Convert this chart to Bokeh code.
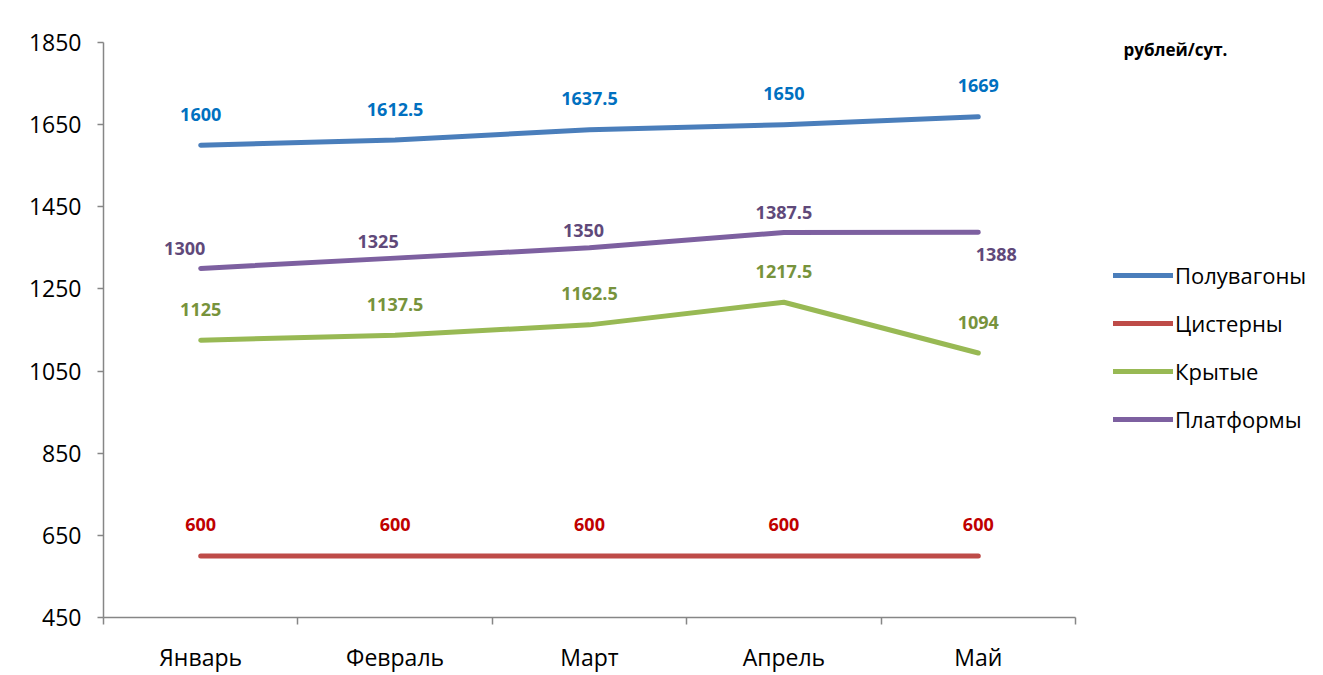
from bokeh.plotting import figure
from bokeh.models import Range1d, FixedTicker, Legend, LegendItem, Label, ColumnDataSource
from bokeh.embed import file_html
from bokeh.resources import INLINE
from bokeh.core.properties import value

# ---- data ----
months = ["Январь", "Февраль", "Март", "Апрель", "Май"]
series_names = ["Полувагоны", "Цистерны", "Крытые", "Платформы"]
poluvagony = [1600, 1612.5, 1637.5, 1650, 1669]
cisterny = [600, 600, 600, 600, 600]
krytye = [1125, 1137.5, 1162.5, 1217.5, 1094]
platformy = [1300, 1325, 1350, 1387.5, 1388]
y_ticks = [450, 650, 850, 1050, 1250, 1450, 1650, 1850]
unit_text = "рублей/сут."

# ---- styles / layout ----
line_colors = ["#4A7EBB", "#BE4B48", "#98B954", "#7D60A0"]
label_colors = ["#0070C0", "#C00000", "#77933C", "#5F497A"]
label_dx = [
    [0, 0, 0, 0, 0],
    [0, 0, 0, 0, 0],
    [0, 0, 0, 0, 0],
    [-16, -17, -6, 0, 18],
]
label_dy = [
    [-31, -31, -31, -31, -31],
    [-31, -31, -31, -31, -31],
    [-31, -31, -31, -31, -31],
    [-20, -17, -17, -20, 22],
]
FONT = "Open Sans"
AXIS_COL = "#868686"
W, H = 1323, 675
LEFT, TOP, BOTTOM = 103, 42, 58
AXIS_PX = 972              # pixel length of the category axis
frame_w = W - LEFT
n = len(months)

p = figure(width=W, height=H, output_backend="svg", toolbar_location=None,
           x_range=Range1d(0, n * frame_w / AXIS_PX), y_range=Range1d(y_ticks[0], y_ticks[-1]),
           min_border_left=LEFT, min_border_right=0, min_border_top=TOP, min_border_bottom=BOTTOM)
p.outline_line_color = None
p.xgrid.visible = False
p.ygrid.visible = False
p.background_fill_color = "white"
p.border_fill_color = "white"

xs = [i + 0.5 for i in range(n)]
all_series = [poluvagony, cisterny, krytye, platformy]

items = []
for k, (name, vals) in enumerate(zip(series_names, all_series)):
    r = p.line(xs, vals, line_color=line_colors[k], line_width=5, line_cap="round", line_join="round")
    items.append(LegendItem(label=name, renderers=[r]))
    src = ColumnDataSource(dict(x=xs, y=vals, t=[f"{v:g}" for v in vals],
                                dx=label_dx[k], dy=label_dy[k]))
    p.text(x="x", y="y", text="t", source=src, x_offset="dx", y_offset="dy",
           text_font=value(FONT), text_font_size="18px", text_font_style="bold",
           text_color=label_colors[k], text_align="center", text_baseline="middle")

yax = p.yaxis[0]
yax.ticker = FixedTicker(ticks=y_ticks)
yax.major_tick_out = 6
yax.major_tick_in = 0
yax.minor_tick_out = 0
yax.minor_tick_in = 0
yax.axis_line_color = AXIS_COL
yax.axis_line_width = 1.5
yax.major_tick_line_color = AXIS_COL
yax.major_tick_line_width = 1.5
yax.major_label_text_font = FONT
yax.major_label_text_font_size = "23px"
yax.major_label_text_color = "black"
yax.major_label_standoff = 16

xax = p.xaxis[0]
xax.bounds = (0, n)
xax.ticker = FixedTicker(ticks=xs, minor_ticks=list(range(n + 1)))
xax.major_label_overrides = {x: m for x, m in zip(xs, months)}
xax.major_tick_out = 0
xax.major_tick_in = 0
xax.minor_tick_out = 7
xax.minor_tick_in = 0
xax.minor_tick_line_color = AXIS_COL
xax.minor_tick_line_width = 1.5
xax.axis_line_color = AXIS_COL
xax.axis_line_width = 1.5
xax.major_label_text_font = FONT
xax.major_label_text_font_size = "23px"
xax.major_label_text_color = "black"
xax.major_label_standoff = 16

legend = Legend(items=items, location=(1010, 183), orientation="vertical",
                label_text_font=FONT, label_text_font_size="22px", label_text_color="black",
                glyph_width=60, glyph_height=22, label_height=22, label_standoff=2,
                spacing=18, padding=0, margin=0, border_line_color=None,
                background_fill_alpha=0)
p.add_layout(legend, "center")

p.add_layout(Label(x=1020, y=568, x_units="screen", y_units="screen", text=unit_text,
                   text_font=FONT, text_font_size="17px", text_font_style="bold",
                   text_color="black", text_baseline="middle"))

open("out.html", "w").write(file_html(p, INLINE))
